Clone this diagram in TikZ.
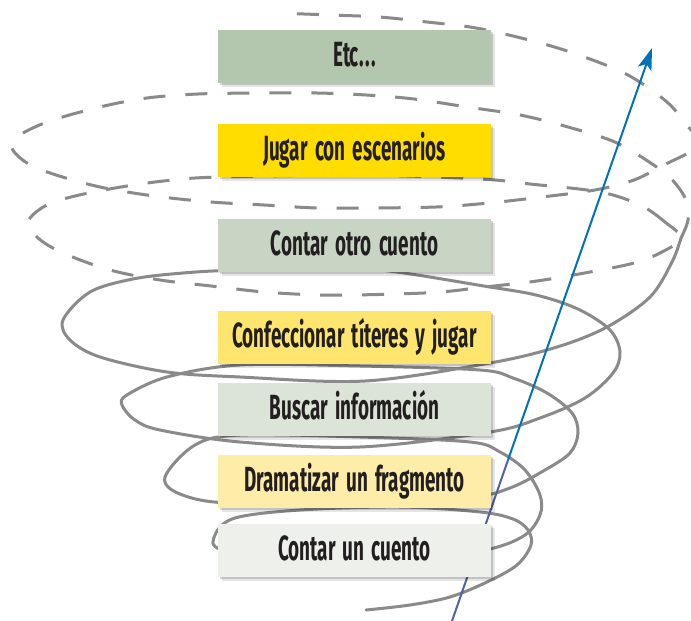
\documentclass[tikz,border=0pt]{standalone}
\usepackage{fontspec}
\newfontfamily\boxfont{Fira Sans}[FakeStretch=0.54, WordSpace=1.6]
\usetikzlibrary{arrows.meta,shadows}
\definecolor{cEtc}{RGB}{179,199,174}
\definecolor{cJugar}{RGB}{255,221,0}
\definecolor{cOtro}{RGB}{200,213,196}
\definecolor{cConf}{RGB}{254,230,110}
\definecolor{cBusc}{RGB}{220,227,215}
\definecolor{cDram}{RGB}{254,237,168}
\definecolor{cCont}{RGB}{237,240,235}
\definecolor{cText}{RGB}{35,31,32}
\definecolor{cSpiral}{RGB}{138,138,138}
\definecolor{cBlue}{RGB}{0,114,188}
\definecolor{cBlueLow}{RGB}{82,96,174}
\tikzset{
  stepbox/.style={draw=none, minimum width=273pt, minimum height=53pt, inner sep=0pt,
    text=cText, font=\boxfont\bfseries\fontsize{35}{40}\selectfont,
    text height=24pt, text depth=4pt,
    drop shadow={shadow xshift=4pt,shadow yshift=-4pt,opacity=0.10,fill=black},
    drop shadow={shadow xshift=2pt,shadow yshift=-2pt,opacity=0.15,fill=black}},
  spiral/.style={draw=cSpiral, line width=3pt, line cap=round, line join=round},
  spiraldash/.style={spiral, line cap=butt, dash pattern=on 22pt off 20pt},
  arrowline/.style={line width=2pt}
}
\begin{document}
\begin{tikzpicture}[x=1pt,y=-1pt]
\useasboundingbox (0,0) rectangle (691,621);
\fill[white] (0,0) rectangle (691,621);
\clip (0,0) rectangle (691,621);

% solid part of the spiral
\draw[spiral] plot[smooth, tension=0.55] coordinates {
 (366,610) (410,605) (450,597) (487,582) (517,565) (531,545) (528,530) (513,519)
 (480,512) (400,507) (300,510) (235,518) (215,535) (222,550) (300,562) (420,560)
 (490,549) (525,535) (540,515) (540,495) (525,470) (500,452) (470,442) (360,437)
 (240,435) (195,445) (165,477) (180,494) (230,503) (360,500) (470,497) (510,488)
 (545,470) (570,453) (578,433) (572,413) (547,393) (513,378) (480,370) (360,366)
 (240,365) (167,377) (127,395) (122,405) (135,420) (160,430) (240,442) (360,447)
 (490,432) (540,418) (585,398) (613,373) (620,352) (610,330) (580,310) (540,296)
 (490,287) (360,268) (240,270) (183,273) (133,279) (90,292) (63,320) (70,340)
 (100,357) (167,372) (240,377) (365,381) (490,363) (557,347) (607,327) (650,297)
 (672,262) (681,238)};

% dashed closed loop
\draw[spiraldash] plot[smooth cycle, tension=0.55] coordinates {
 (681,238) (665,222) (640,205) (600,192) (530,184) (480,179) (360,175) (220,177)
 (173,180) (127,186) (75,196) (45,206) (28,222) (38,238) (63,253) (110,270)
 (160,280) (211,286) (264,292) (317,295) (352,295) (396,294) (441,292) (485,287)
 (537,281) (590,272) (634,263) (662,252)};

% dashed upper part of the spiral
\draw[spiraldash] plot[smooth, tension=0.55] coordinates {
 (681,238) (688,220) (686,200) (675,183) (661,170) (617,143) (568,127) (520,115)
 (467,107) (414,99) (366,95) (317,93) (260,93) (198,94) (147,98) (100,107)
 (50,121) (20,135) (12,148) (27,163) (53,174) (100,187) (154,196) (211,202)
 (264,205) (317,208) (366,208) (436,207) (489,203) (542,197) (595,190) (634,180)
 (668,163) (690,152) (703,141) (691,130) (667,102) (626,74) (573,53) (529,40)
 (476,28) (427,22) (379,17) (330,15) (277,13)};

% arrow
\coordinate (aS) at (452,621);
\coordinate (aM) at (508,460);
\coordinate (aE) at (652,48);
\draw[arrowline, draw=cBlueLow] (aS) -- (aM);
\draw[arrowline, draw=cBlue, -{Stealth[length=22pt,width=14pt,inset=5pt]}] (aM) -- (aE);

% boxes
\node[stepbox, fill=cEtc]   (etc)  at (354.5,56.5)  {Etc\kern1pt.\kern1pt.\kern1pt.};
\node[stepbox, fill=cJugar] (jug)  at (354.5,150.5) {Jugar con escenarios};
\node[stepbox, fill=cOtro]  (otro) at (354.5,245.5) {Contar otro cuento};
\node[stepbox, fill=cConf]  (conf) at (354.5,337.5) {Confeccionar títeres y jugar};
\node[stepbox, fill=cBusc]  (busc) at (354.5,409.5) {Buscar información};
\node[stepbox, fill=cDram]  (dram) at (354.5,481.5) {Dramatizar un fragmento};
\node[stepbox, fill=cCont]  (cont) at (354.5,550.5) {Contar un cuento};
\end{tikzpicture}
\end{document}
